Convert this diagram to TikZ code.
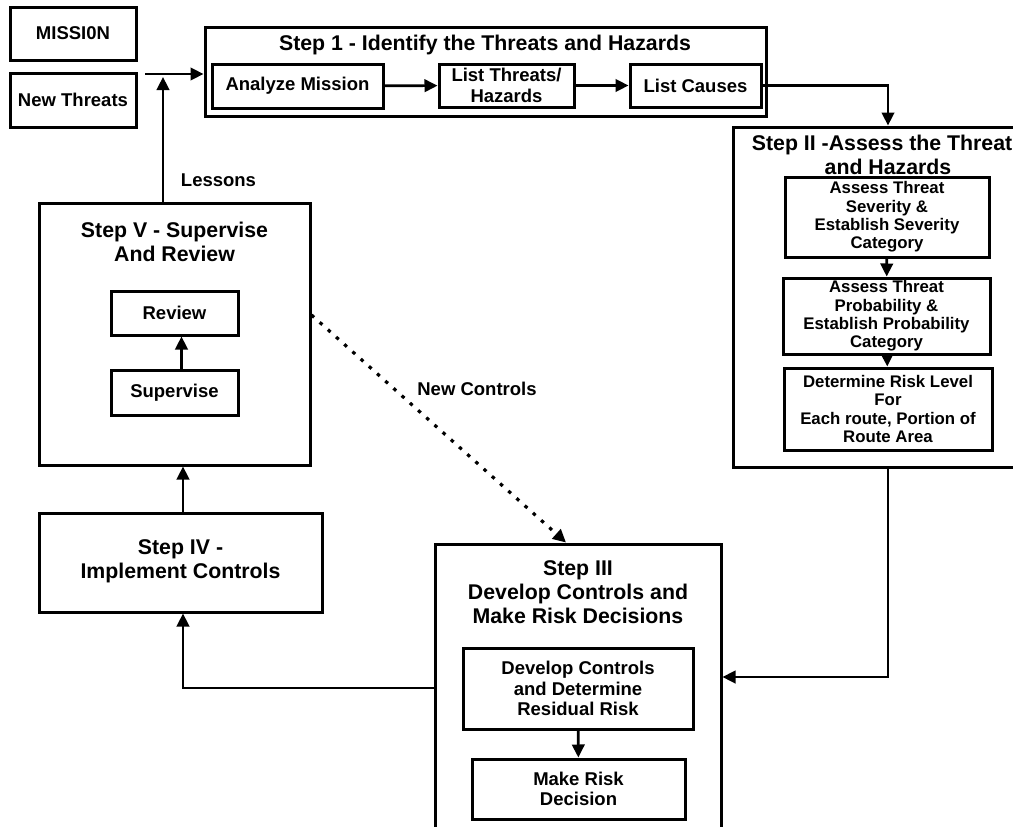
\documentclass[tikz,border=0pt]{standalone}
\usepackage{fontspec}
\setmainfont{Liberation Sans}
\usetikzlibrary{arrows.meta}
\begin{document}
\begin{tikzpicture}[x=1pt,y=-1pt,
  box/.style={draw, line width=3pt, align=center, inner sep=0pt, font=\bfseries\fontsize{18.5}{20.5}\selectfont},
  outer/.style={draw, line width=3pt, inner sep=0pt},
  sbox/.style={box, font=\bfseries\fontsize{16.8}{18.3}\selectfont},
  ttl/.style={align=center, inner sep=0pt, font=\bfseries\fontsize{21.3}{24}\selectfont},
  lbl/.style={inner sep=0pt, font=\bfseries\fontsize{18.5}{20.5}\selectfont},
  conn/.style={line width=2.6pt, -{Triangle[length=13pt,width=12.5pt]}},
  dots/.style={line width=3.2pt, dash pattern=on 3.5pt off 7.5pt, -{Triangle[length=13pt,width=12.5pt]}}
]
\useasboundingbox (0,0) rectangle (1013,827);
\clip (0,0) rectangle (1013,827);

% top-left inputs
\node[box, minimum width=126pt, minimum height=53pt] (mission) at (73,33.5) {MISSI0N};
\node[box, minimum width=126pt, minimum height=54pt] (newthreats) at (73,100) {New Threats};

% Step 1
\node[outer, minimum width=561pt, minimum height=89pt] (step1) at (485.5,71.5) {};
\node[ttl] (step1t) at (485,45) {Step 1 - Identify the Threats and Hazards};
\node[box, minimum width=171pt, minimum height=44pt] (analyze) at (297.5,86) {Analyze Mission};
\node[box, minimum width=135pt, minimum height=43pt] (listthr) at (506.5,85.5) {List Threats/\\Hazards};
\node[box, minimum width=131pt, minimum height=43pt] (causes) at (695.5,85.5) {List Causes};

% Step II
\node[outer, minimum width=310pt, minimum height=340pt] (step2) at (888,297) {};
\node[ttl] (step2t) at (888,155) {Step II -Assess the Threats\\and Hazards};
\node[sbox, minimum width=204pt, minimum height=80pt] (sev) at (887,217) {Assess Threat\\Severity \&\\Establish Severity\\Category};
\node[sbox, minimum width=207pt, minimum height=76pt] (prob) at (886.5,316) {Assess Threat\\Probability \&\\Establish Probability\\Category};
\node[sbox, minimum width=208pt, minimum height=82pt] (level) at (888,409) {Determine Risk Level\\For\\Each route, Portion of\\Route Area};

% Step III
\node[outer, minimum width=286pt, minimum height=330pt] (step3) at (578,709) {};
\node[ttl] (step3t) at (578,592) {Step III\\Develop Controls and\\Make Risk Decisions};
\node[box, minimum width=230pt, minimum height=81pt] (develop) at (578,688.5) {Develop Controls\\and Determine\\Residual Risk};
\node[box, minimum width=213pt, minimum height=60pt] (makerisk) at (578.5,789) {Make Risk\\Decision};

% Step IV
\node[outer, minimum width=283pt, minimum height=99pt] (step4) at (180.5,562.5) {};
\node[ttl] (step4t) at (180.5,561) {Step IV -\\Implement Controls};

% Step V
\node[outer, minimum width=271pt, minimum height=262pt] (step5) at (174.5,334) {};
\node[ttl] (step5t) at (174.5,242) {Step V - Supervise\\And Review};
\node[box, minimum width=127pt, minimum height=44pt] (review) at (174.5,313) {Review};
\node[box, minimum width=127pt, minimum height=45pt] (supervise) at (174.5,392.5) {Supervise};

% labels
\node[lbl] (lessons) at (218.5,180) {Lessons};
\node[lbl] (newctl) at (477,389) {New Controls};

% helper coordinates
\coordinate (entry) at (145,74);
\coordinate (lesend) at (163,77);
\coordinate (j1) at (888,677);
\coordinate (j2) at (183,688);
\coordinate (d1) at (310,315);
\coordinate (d2) at (566,544);

% connectors
\draw[conn] (entry) -- (entry -| step1.west);
\draw[conn] (step5.north -| lesend) -- (lesend);
\draw[conn] (analyze) -- (listthr);
\draw[conn] (listthr) -- (causes);
\draw[conn] (causes.east) -| (step2.north);
\draw[conn] (sev) -- (prob);
\draw[conn] (prob) -- (level);
\draw[conn] (step2.south) -- (j1) -- (j1 -| step3.east);
\draw[conn] (develop) -- (makerisk);
\draw[conn] (j2 -| step3.west) -- (j2) -- (j2 |- step4.south);
\draw[conn] (step4.north -| j2) -- (step5.south -| j2);
\draw[conn] ([xshift=7pt]supervise.north) -- ([xshift=7pt]review.south);
\draw[dots] (d1 -| step5.east) -- (d2 |- step3.north);
\end{tikzpicture}
\end{document}
